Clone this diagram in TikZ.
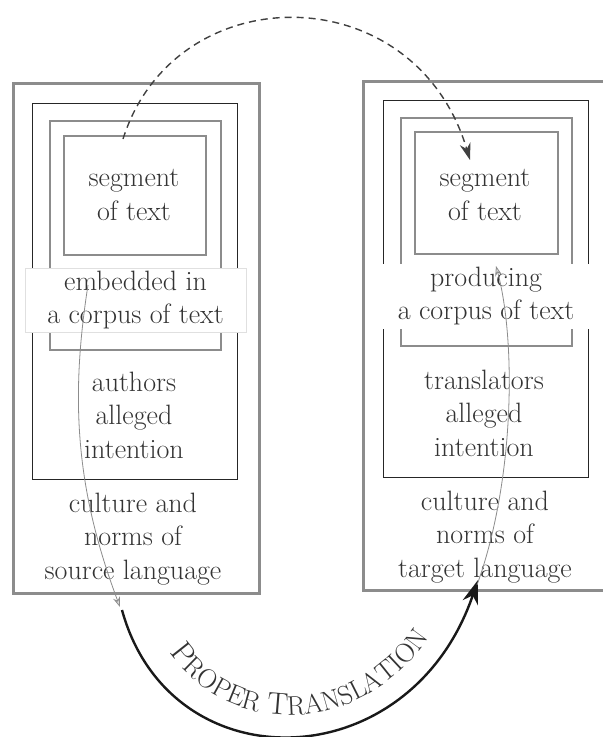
\documentclass[tikz,border=0pt]{standalone}
\usetikzlibrary{arrows.meta,decorations.text}
\begin{document}
\begin{tikzpicture}[x=1pt,y=-1pt,
  outerbox/.style={draw=black!45,line width=3pt,inner sep=0pt,anchor=north west},
  ctxbox/.style={draw=black!85,line width=1.3pt,inner sep=0pt,anchor=north west},
  graybox/.style={draw=black!45,line width=1.8pt,inner sep=0pt,anchor=north west},
  txt/.style={text=black!80,align=center,font=\fontsize{28}{33.5}\selectfont,inner sep=0pt},
  dasharrow/.style={draw=black!75,line width=1.4pt,dash pattern=on 7pt off 5pt,-{Stealth[length=17pt,width=11pt]}},
  thinarrow/.style={draw=black!45,line width=0.8pt,-{Stealth[length=10pt,width=7pt,fill=black!15]}},
  bigarrow/.style={draw=black!90,line width=2.4pt,-{Stealth[length=24pt,width=16pt]}}]
\useasboundingbox (0,0) rectangle (603,737);
\fill[white] (0,0) rectangle (603,737);
% left column
\node[outerbox,minimum width=246pt,minimum height=510pt] (LO) at (12,82) {};
\node[ctxbox,minimum width=205pt,minimum height=376pt] (L2) at (32,103) {};
\node[graybox,minimum width=171pt,minimum height=229pt] (L3) at (49,120) {};
\node[graybox,minimum width=142pt,minimum height=119pt] (L4) at (63,135) {};
\node[txt] (Lseg) at (134,195) {segment\\of text};
\node[txt,fill=white,draw=black!12,line width=0.6pt,minimum width=221pt,minimum height=64pt] (Lemb) at (135.5,300) {embedded in\\a corpus of text};
\node[txt] (Lint) at (134,415) {authors\\alleged\\intention};
\node[txt] (Lcul) at (133,539) {culture and\\norms of\\source language};
% right column
\node[outerbox,minimum width=250pt,minimum height=509pt] (RO) at (362,80) {};
\node[ctxbox,minimum width=205pt,minimum height=377pt] (R2) at (383,100) {};
\node[graybox,minimum width=171pt,minimum height=228pt] (R3) at (400,117) {};
\node[graybox,minimum width=143pt,minimum height=122pt] (R4) at (414,131) {};
\node[txt] (Rseg) at (485,195) {segment\\of text};
\node[txt,fill=white,minimum width=230pt,minimum height=65pt] (Rprod) at (486,296) {producing\\a corpus of text};
\node[txt] (Rint) at (484,413) {translators\\alleged\\intention};
\node[txt] (Rcul) at (485,537) {culture and\\norms of\\target language};
% connectors
\coordinate (ds) at (123,139);
\coordinate (de) at (470,160);
\draw[dasharrow] (ds) .. controls (175,-25) and (415,-25) .. (de);
\coordinate (gs) at (88,285);
\coordinate (ge) at (120,607);
\draw[thinarrow] (gs) .. controls (70,400) and (76,490) .. (ge);
\coordinate (bs) at (122,610);
\coordinate (be) at (478,580);
\draw[bigarrow] (bs) .. controls (170,785) and (410,780) .. (be);
\coordinate (ts) at (146,600);
\coordinate (te) at (454,585);
\path[decorate,decoration={text along path,text align=center,text color=black!80,
  text={|\fontsize{31}{36}\selectfont|P|\fontsize{27}{32}\selectfont|ROPER |\fontsize{31}{36}\selectfont|T|\fontsize{27}{32}\selectfont|RANSLATION}}] (ts) .. controls (188,758) and (400,753) .. (te);
\coordinate (rs) at (477,585);
\coordinate (re) at (496,266);
\draw[thinarrow] (rs) .. controls (515,480) and (516,340) .. (re);
\end{tikzpicture}
\end{document}
